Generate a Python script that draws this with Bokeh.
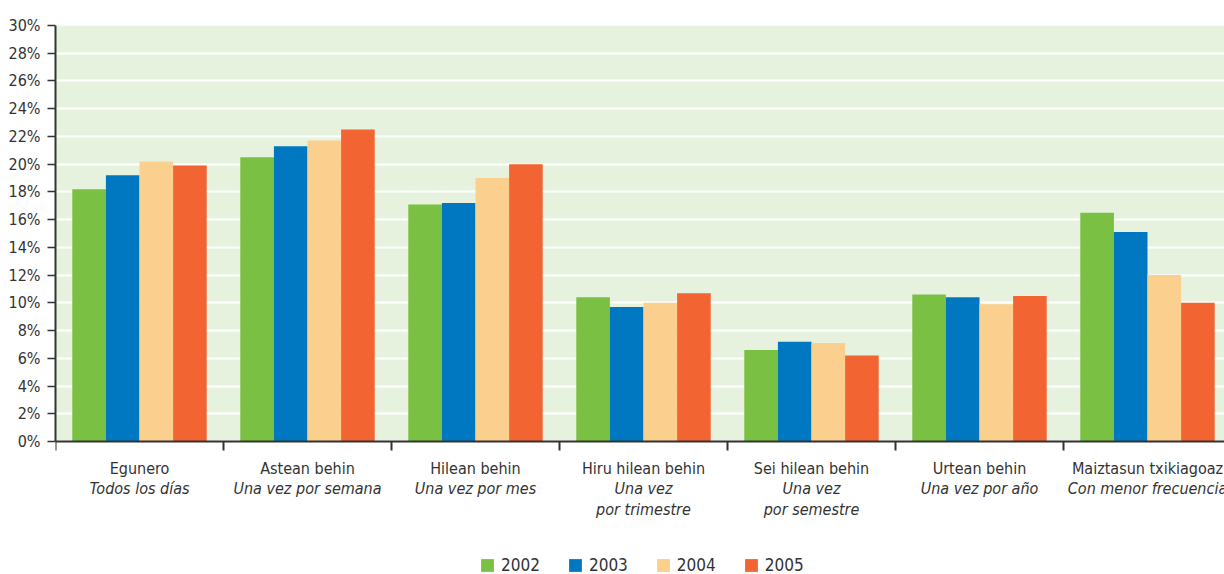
from bokeh.plotting import figure
from bokeh.models import (ColumnDataSource, Range1d, FixedTicker, PrintfTickFormatter,
                          Legend, LegendItem, LinearAxis, BoxAnnotation, Span)
from bokeh.core.properties import value
from bokeh.transform import dodge
from bokeh.embed import file_html
from bokeh.resources import INLINE

categories_eu = ["Egunero", "Astean behin", "Hilean behin", "Hiru hilean behin",
                 "Sei hilean behin", "Urtean behin", "Maiztasun txikiagoaz"]
categories_es = ["Todos los días", "Una vez por semana", "Una vez por mes",
                 "Una vez\npor trimestre", "Una vez\npor semestre", "Una vez por año",
                 "Con menor frecuencia"]
years = ["2002", "2003", "2004", "2005"]
v2002 = [18.2, 20.5, 17.1, 10.4, 6.6, 10.6, 16.5]
v2003 = [19.2, 21.3, 17.2, 9.7, 7.2, 10.4, 15.1]
v2004 = [20.2, 21.7, 19.0, 10.0, 7.1, 9.9, 12.0]
v2005 = [19.9, 22.5, 20.0, 10.7, 6.2, 10.5, 10.0]
y_ticks = list(range(0, 31, 2))

colors = ["#7ac143", "#0078c1", "#fbcf8e", "#f26532"]
FONT = "'Liberation Sans Narrow', 'DejaVu Sans Condensed', sans-serif"
TXT = "#333333"
GREEN_BG = "#e7f2de"

# layout (pixels)
W, H = 1224, 574
LEFT, TOP = 55, 25
PLOT_BOTTOM = 441            # pixel row of the 0% line
CAT_W = 168                   # pixels per category
px_per_pct = (PLOT_BOTTOM - TOP) / 30.0
y_start = -(H - PLOT_BOTTOM) / px_per_pct
x_end = (W - LEFT) / CAT_W
tick_len = 9 / px_per_pct

n = len(categories_eu)
centers = [i + 0.5 for i in range(n)]
src = ColumnDataSource(dict(x=centers, y2002=v2002, y2003=v2003, y2004=v2004, y2005=v2005))

p = figure(width=W, height=H, output_backend="svg", toolbar_location=None,
           x_range=Range1d(0, x_end), y_range=Range1d(y_start, 30),
           min_border_left=LEFT, min_border_right=0, min_border_top=TOP, min_border_bottom=0,
           x_axis_location=None, y_axis_location=None)
p.background_fill_color = "white"
p.border_fill_color = "white"
p.outline_line_color = None

p.add_layout(BoxAnnotation(bottom=0, top=30, fill_color=GREEN_BG, fill_alpha=1,
                           line_color=None, level="image"))

# y axis
yax = LinearAxis(ticker=FixedTicker(ticks=y_ticks), formatter=PrintfTickFormatter(format="%d%%"),
                 bounds=(0, 30))
yax.axis_line_color = TXT
yax.axis_line_width = 2
yax.major_tick_line_color = TXT
yax.major_tick_line_width = 1.5
yax.major_tick_out = 8
yax.major_tick_in = 0
yax.minor_tick_line_color = None
yax.major_label_standoff = 7
yax.major_label_text_font = FONT
yax.major_label_text_font_size = "16px"
yax.major_label_text_color = TXT
p.add_layout(yax, "left")

p.ygrid.ticker = FixedTicker(ticks=y_ticks)
p.ygrid.grid_line_color = "white"
p.ygrid.grid_line_width = 2
p.xgrid.grid_line_color = None

offsets = [-0.3, -0.1, 0.1, 0.3]
renderers = []
for yr, off, col in zip(years, offsets, colors):
    renderers.append(p.vbar(x=dodge("x", off, range=p.x_range), top="y" + yr, width=0.2,
                            source=src, fill_color=col, line_color=None))

# category axis line and boundary ticks
p.add_layout(Span(location=0, dimension="width", line_color=TXT, line_width=2))
bounds_x = list(range(n + 1))
p.segment(x0=bounds_x, y0=[0] * len(bounds_x), x1=bounds_x, y1=[-tick_len] * len(bounds_x),
          line_color=TXT, line_width=2)

# category labels
p.text(x=centers, y=[0] * n, text=categories_eu, y_offset=27,
       text_align="center", text_baseline="middle", text_font=value(FONT),
       text_font_size="16px", text_color=TXT)
max_lines = max(len(s.split("\n")) for s in categories_es)
for j in range(max_lines):
    xs, ts = [], []
    for cx, es in zip(centers, categories_es):
        parts = es.split("\n")
        if j < len(parts):
            xs.append(cx)
            ts.append(parts[j])
    p.text(x=xs, y=[0] * len(xs), text=ts, y_offset=47 + 20.5 * j,
           text_align="center", text_baseline="middle", text_font=value(FONT),
           text_font_size="16px", text_font_style="italic", text_color=TXT)

legend = Legend(items=[LegendItem(label=yr, renderers=[r]) for yr, r in zip(years, renderers)],
                orientation="horizontal", location=(424, -1))
legend.glyph_width = 16
legend.glyph_height = 16
legend.label_standoff = 6
legend.spacing = 27
legend.padding = 0
legend.margin = 0
legend.border_line_color = None
legend.background_fill_alpha = 0
legend.label_text_font = FONT
legend.label_text_font_size = "17px"
legend.label_text_color = TXT
p.add_layout(legend, "center")

open("out.html", "w").write(file_html(p, INLINE))
